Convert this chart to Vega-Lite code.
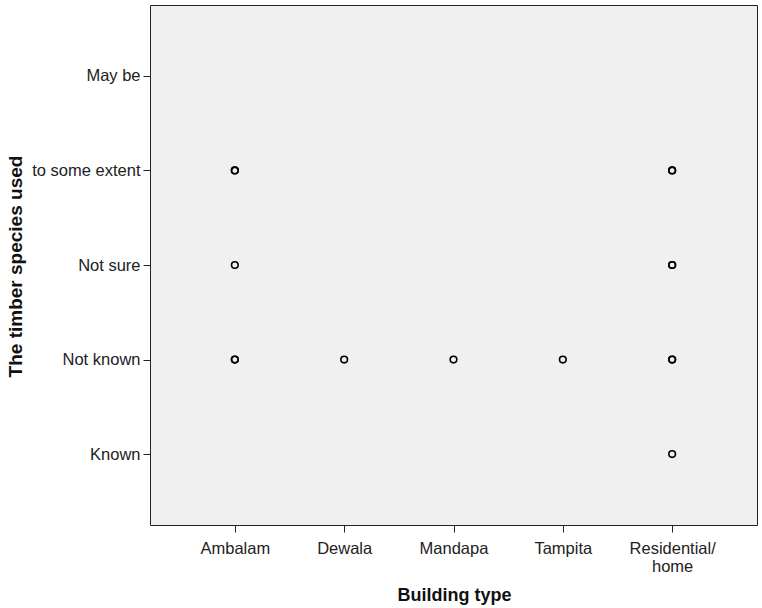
{
  "$schema": "https://vega.github.io/schema/vega-lite/v6.json",
  "width": 607,
  "height": 520,
  "autosize": {"type": "none"},
  "padding": {"left": 150, "top": 5, "right": 5, "bottom": 83},
  "background": "white",
  "config": {
    "view": {"fill": "#f0f0f0", "stroke": "#222222", "strokeWidth": 1},
    "font": "Liberation Sans"
  },
  "data": {
    "values": [
      {"building": "Ambalam", "species": "to some extent"},
      {"building": "Ambalam", "species": "to some extent"},
      {"building": "Ambalam", "species": "Not sure"},
      {"building": "Ambalam", "species": "Not known"},
      {"building": "Ambalam", "species": "Not known"},
      {"building": "Dewala", "species": "Not known"},
      {"building": "Mandapa", "species": "Not known"},
      {"building": "Tampita", "species": "Not known"},
      {"building": "Residential/home", "species": "to some extent"},
      {"building": "Residential/home", "species": "to some extent"},
      {"building": "Residential/home", "species": "Not sure"},
      {"building": "Residential/home", "species": "Not sure"},
      {"building": "Residential/home", "species": "Not known"},
      {"building": "Residential/home", "species": "Not known"},
      {"building": "Residential/home", "species": "Known"}
    ]
  },
  "mark": {"type": "point", "shape": "circle", "filled": false, "stroke": "black", "strokeWidth": 1.6, "size": 44, "opacity": 1},
  "encoding": {
    "x": {
      "field": "building",
      "type": "nominal",
      "sort": ["Ambalam", "Dewala", "Mandapa", "Tampita", "Residential/home"],
      "scale": {"type": "point", "padding": 0.776},
      "axis": {
        "title": "Building type",
        "titleFontSize": 18,
        "titleFontWeight": "bold",
        "titleColor": "#111111",
        "titleX": 304,
        "titleY": 75,
        "titleBaseline": "alphabetic",
        "labelAngle": 0,
        "labelFontSize": 16.5,
        "labelColor": "#222222",
        "labelPadding": 8,
        "labelLineHeight": 18,
        "labelExpr": "datum.label == 'Residential/home' ? ['Residential/', 'home'] : datum.label",
        "tickColor": "#222222",
        "tickSize": 7,
        "domain": false,
        "grid": false
      }
    },
    "y": {
      "field": "species",
      "type": "nominal",
      "sort": ["May be", "to some extent", "Not sure", "Not known", "Known"],
      "scale": {"type": "point", "padding": 0.75, "domain": ["May be", "to some extent", "Not sure", "Not known", "Known"]},
      "axis": {
        "title": "The timber species used",
        "titleFontSize": 19,
        "titleFontWeight": "bold",
        "titleColor": "#111111",
        "titleX": -129,
        "titleY": 261,
        "titleAngle": -90,
        "titleAlign": "center",
        "titleBaseline": "alphabetic",
        "labelFontSize": 16.5,
        "labelColor": "#222222",
        "labelPadding": 3,
        "tickColor": "#222222",
        "tickSize": 7,
        "domain": false,
        "grid": false
      }
    }
  }
}
